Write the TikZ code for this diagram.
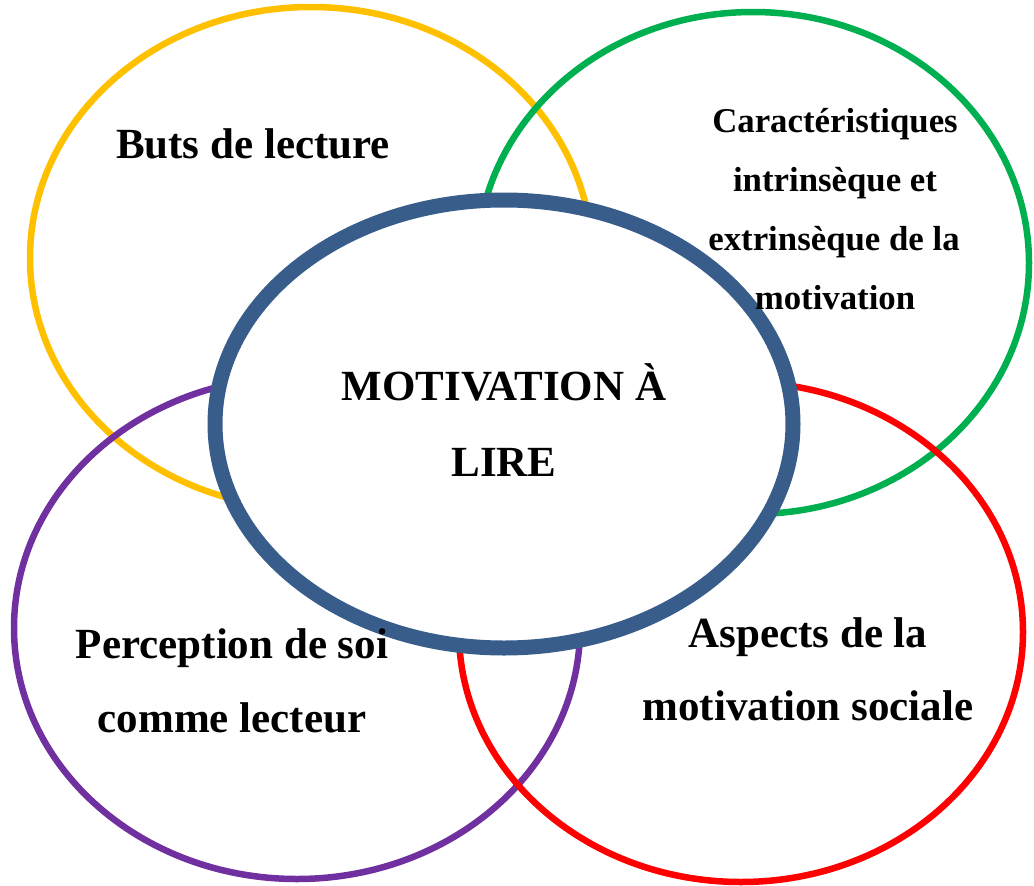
\documentclass[tikz,border=0pt]{standalone}
\usepackage{fontspec}
\setmainfont{Liberation Serif}
\definecolor{cyellow}{HTML}{FFC000}
\definecolor{cgreen}{HTML}{00B050}
\definecolor{cpurple}{HTML}{7030A0}
\definecolor{cred}{HTML}{FF0000}
\definecolor{cblue}{HTML}{385D8A}
\tikzset{
  ring/.style={line width=6.5pt},
  core/.style={line width=15pt, draw=cblue, fill=white},
  lbl/.style={anchor=base, inner sep=0pt, font=\bfseries\fontsize{43}{50}\selectfont},
  lblsmall/.style={anchor=base, inner sep=0pt, font=\bfseries\fontsize{34.8}{41}\selectfont}
}
\begin{document}
\begin{tikzpicture}[x=1pt,y=-1pt]
\useasboundingbox (0,0) rectangle (1034,886);
\draw[ring, cyellow] (311,258) ellipse [x radius=281, y radius=251];
\draw[ring, cgreen] (753,263) ellipse [x radius=276, y radius=251];
\draw[ring, cpurple] (297,628) ellipse [x radius=283, y radius=251];
\draw[ring, cred] (741,632) ellipse [x radius=282, y radius=250];
\draw[core] (504,424) ellipse [x radius=289, y radius=224];
\node[lbl] (buts) at (253,158) {Buts de lecture};
\node[lblsmall] (car1) at (835,132) {Caractéristiques};
\node[lblsmall] (car2) at (835,191) {intrinsèque et};
\node[lblsmall] (car3) at (834,250) {extrinsèque de la};
\node[lblsmall] (car4) at (835,309) {motivation};
\node[lbl] (mot1) at (504,400) {MOTIVATION À};
\node[lbl] (mot2) at (504,476) {LIRE};
\node[lbl] (per1) at (232,658) {Perception de soi};
\node[lbl] (per2) at (232,732) {comme lecteur};
\node[lbl] (asp1) at (808,647) {Aspects de la};
\node[lbl] (asp2) at (808,720) {motivation sociale};
\end{tikzpicture}
\end{document}
